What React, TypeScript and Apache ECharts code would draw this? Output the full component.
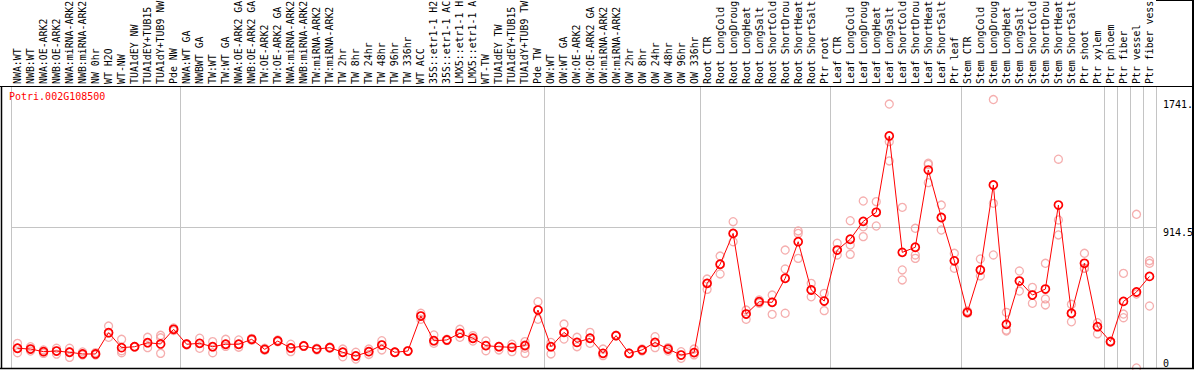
import React, { useEffect, useRef } from "react";
import * as echarts from "echarts";

const geneId = "Potri.002G108500";

// labels as shown in the reference (cut to 14 characters there)
const categories = [
  "NWA:WT", "NWB:WT", "NWA:OE-ARK2", "NWB:OE-ARK2", "NWA:miRNA-ARK2", "NWB:miRNA-ARK2",
  "NW 0hr", "WT H2O", "WT-NW", "TUA1dEY NW", "TUA1dEY+TUB15", "TUA1dY+TUB9 NW", "Pde NW",
  "NWA:WT GA", "NWBWT GA", "TW:WT", "TW:WT GA", "NWA:OE-ARK2 GA", "NWB:OE-ARK2 GA",
  "TW:OE-ARK2", "TW:OE-ARK2 GA", "NWA:miRNA-ARK2", "NWB:miRNA-ARK2", "TW:miRNA-ARK2",
  "TW:miRNA-ARK2", "TW 2hr", "TW 8hr", "TW 24hr", "TW 48hr", "TW 96hr", "TW 336hr", "WT ACC",
  "35S::etr1-1 H2", "35S::etr1-1 AC", "LMX5::etr1-1 H", "LMX5::etr1-1 A", "WT-TW",
  "TUA1dEY TW", "TUA1dEY+TUB15", "TUA1dY+TUB9 TW", "Pde TW",
  "OW:WT", "OW:WT GA", "OW:OE-ARK2", "OW:OE-ARK2 GA", "OW:miRNA-ARK2", "OW:miRNA-ARK2",
  "OW 2hr", "OW 8hr", "OW 24hr", "OW 48hr", "OW 96hr", "OW 336hr",
  "Root CTR", "Root LongCold", "Root LongDroug", "Root LongHeat", "Root LongSalt",
  "Root ShortCold", "Root ShortDrou", "Root ShortHeat", "Root ShortSalt", "Ptr root",
  "Leaf CTR", "Leaf LongCold", "Leaf LongDroug", "Leaf LongHeat", "Leaf LongSalt",
  "Leaf ShortCold", "Leaf ShortDrou", "Leaf ShortHeat", "Leaf ShortSalt", "Ptr leaf",
  "Stem CTR", "Stem LongCold", "Stem LongDroug", "Stem LongHeat", "Stem LongSalt",
  "Stem ShortCold", "Stem ShortDrou", "Stem ShortHeat", "Stem ShortSalt",
  "Ptr shoot", "Ptr xylem", "Ptr phloem", "Ptr fiber", "Ptr vessel", "Ptr fiber vess",
];

const means = [
  128, 123, 106, 110, 102, 91, 91, 229, 132, 138, 164, 156, 251,
  154, 160, 138, 154, 154, 186, 121, 175, 130, 143, 123, 132, 102, 78, 106, 149, 102, 110, 337,
  177, 182, 225, 193, 145, 138, 134, 145, 376,
  138, 231, 166, 193, 95, 210, 95, 117, 166, 123, 84, 100,
  549, 673, 873, 350, 430, 426, 582, 819, 506, 434,
  765, 835, 951, 1010, 1505, 750, 783, 1284, 976, 695,
  361, 636, 1187, 283, 564, 473, 512, 1057, 355,
  679, 268, 171, 432, 493, 594,
];

const replicates: number[][] = [
  [160, 128, 99], [138, 123, 110], [117, 106, 95], [128, 110, 90], [128, 105, 69], [104, 91, 84],
  [100, 91, 84], [272, 229, 199], [186, 112, 99], [140, 138, 136], [199, 164, 132], [212, 196, 95],
  [260, 250, 243],
  [154, 150, 158], [193, 160, 128], [171, 138, 99], [186, 154, 140], [182, 154, 135], [186, 192, 180],
  [128, 121, 115], [182, 175, 170], [154, 128, 106], [143, 140, 146], [128, 123, 117], [136, 132, 128],
  [123, 102, 73], [102, 78, 58], [123, 106, 88], [177, 149, 117], [104, 102, 100], [112, 110, 108],
  [355, 337, 316], [214, 177, 160], [186, 182, 178], [251, 225, 199], [210, 193, 175], [175, 145, 112],
  [140, 138, 117], [154, 134, 106], [171, 150, 128, 95], [430, 376, 316],
  [166, 138, 91], [285, 231, 188], [199, 166, 138], [231, 193, 160], [123, 95, 80], [210, 212, 208],
  [95, 97, 93], [123, 117, 110], [203, 166, 132], [132, 123, 110], [106, 84, 63], [123, 100, 85],
  [577, 549, 510], [726, 673, 610], [949, 873, 819], [376, 350, 316], [441, 430, 420], [473, 426, 348],
  [765, 642, 355], [889, 873, 711], [549, 506, 462], [484, 434, 372],
  [809, 765, 733], [955, 798, 737], [1083, 916, 852], [1079, 1010, 921], [1712, 1468, 1343],
  [1042, 636, 571], [906, 733, 711], [1328, 1320, 1202], [1057, 976, 895], [744, 696, 647],
  [370, 361, 355], [707, 636, 597], [1741, 1068, 733], [361, 246, 240], [629, 564, 499],
  [523, 473, 420], [679, 448, 409], [1354, 960, 863], [413, 355, 300],
  [744, 647, 647], [294, 268, 221], [175, 171, 167], [614, 350, 326], [997, 480, 0], [696, 679, 402],
];

// category indices that start a new group (grey separator drawn at their left edge)
const groupStarts = [0, 13, 41, 53, 63, 73, 84, 85, 86, 87];

const axisMax = 1829;
const midTick = 914.5;
const maxReplicate = 1741;
const rightLabels = { zero: "0", mid: "914.5", top: "1741." };

const MONO = "'DejaVu Sans Mono', 'Liberation Mono', monospace";
const GREY = "#c4c4c4";

export default function App() {
  const ref = useRef<HTMLDivElement>(null);
  useEffect(() => {
    if (!ref.current) return;
    const chart = echarts.init(ref.current, undefined, { renderer: "svg" });
    const isStart = (idx: number) => groupStarts.indexOf(idx) >= 0;
    const scatterData: number[][] = [];
    replicates.forEach((reps, i) => reps.forEach((v) => scatterData.push([i, v])));

    const baseY = {
      type: "value" as const,
      position: "right" as const,
      min: 0,
      max: axisMax,
      axisLine: { show: false },
      axisTick: { show: false },
      splitLine: { show: false },
    };

    chart.setOption({
      animation: false,
      backgroundColor: "#ffffff",
      title: {
        text: geneId,
        left: 9,
        top: 91,
        padding: 0,
        textStyle: { color: "#ff0000", fontFamily: MONO, fontSize: 10, fontWeight: "normal" },
      },
      grid: {
        left: 11,
        right: 38,
        top: 86,
        bottom: 2,
        containLabel: false,
        outerBoundsMode: "none",
      },
      xAxis: {
        type: "category",
        data: categories,
        position: "top",
        boundaryGap: true,
        axisLine: { show: false },
        axisTick: {
          show: true,
          interval: (idx: number) => isStart(idx),
          length: 86,
          lineStyle: { color: GREY, width: 1 },
        },
        splitLine: {
          show: true,
          interval: (idx: number) => isStart(idx),
          lineStyle: { color: GREY, width: 1 },
        },
        axisLabel: {
          interval: 0,
          rotate: 90,
          margin: 2,
          color: "#000000",
          fontFamily: MONO,
          fontSize: 9.9,
          hideOverlap: false,
        },
      },
      yAxis: [
        {
          ...baseY,
          interval: midTick,
          splitLine: { show: true, lineStyle: { color: GREY, width: 1 } },
          axisLabel: {
            margin: 7,
            color: "#000",
            fontFamily: MONO,
            fontSize: 10,
            verticalAlign: "top",
            formatter: (v: number) => (Math.abs(v - midTick) < 0.01 ? rightLabels.mid : ""),
          },
        },
        {
          ...baseY,
          interval: maxReplicate,
          axisLabel: {
            margin: 7,
            color: "#000",
            fontFamily: MONO,
            fontSize: 10,
            verticalAlign: "top",
            formatter: (v: number) => (Math.abs(v - maxReplicate) < 0.01 ? rightLabels.top : ""),
          },
        },
        {
          ...baseY,
          interval: midTick,
          axisLabel: {
            margin: 7,
            color: "#000",
            fontFamily: MONO,
            fontSize: 10,
            verticalAlign: "bottom",
            formatter: (v: number) => (v === 0 ? rightLabels.zero : ""),
          },
        },
      ],
      series: [
        {
          type: "scatter",
          data: scatterData,
          symbol: "circle",
          symbolSize: 8,
          itemStyle: { color: "rgba(0,0,0,0)", borderColor: "#f29a9a", borderWidth: 1.3 },
          z: 2,
        },
        {
          type: "line",
          data: means,
          symbol: "circle",
          symbolSize: 8,
          showSymbol: true,
          itemStyle: { color: "rgba(0,0,0,0)", borderColor: "#ff0000", borderWidth: 1.7 },
          lineStyle: { color: "#ff0000", width: 1 },
          z: 3,
        },
      ],
      graphic: [
        { type: "line", shape: { x1: 0, y1: 86.5, x2: 1194, y2: 86.5 }, style: { stroke: "#000", lineWidth: 1 }, z: 10 },
        { type: "line", shape: { x1: 0, y1: 368.5, x2: 1194, y2: 368.5 }, style: { stroke: "#000", lineWidth: 1.5 }, z: 10 },
        { type: "line", shape: { x1: 1.5, y1: 86, x2: 1.5, y2: 369 }, style: { stroke: "#000", lineWidth: 1.5 }, z: 10 },
        { type: "line", shape: { x1: 1193, y1: 0, x2: 1193, y2: 369 }, style: { stroke: "#000", lineWidth: 2 }, z: 10 },
        { type: "line", shape: { x1: 1156, y1: 0.5, x2: 1194, y2: 0.5 }, style: { stroke: "#000", lineWidth: 1 }, z: 10 },
      ],
    });
    return () => chart.dispose();
  }, []);
  return (
    <div
      ref={ref}
      style={{ position: "absolute", left: 0, top: 0, width: 1194, height: 370, background: "#fff" }}
    />
  );
}
